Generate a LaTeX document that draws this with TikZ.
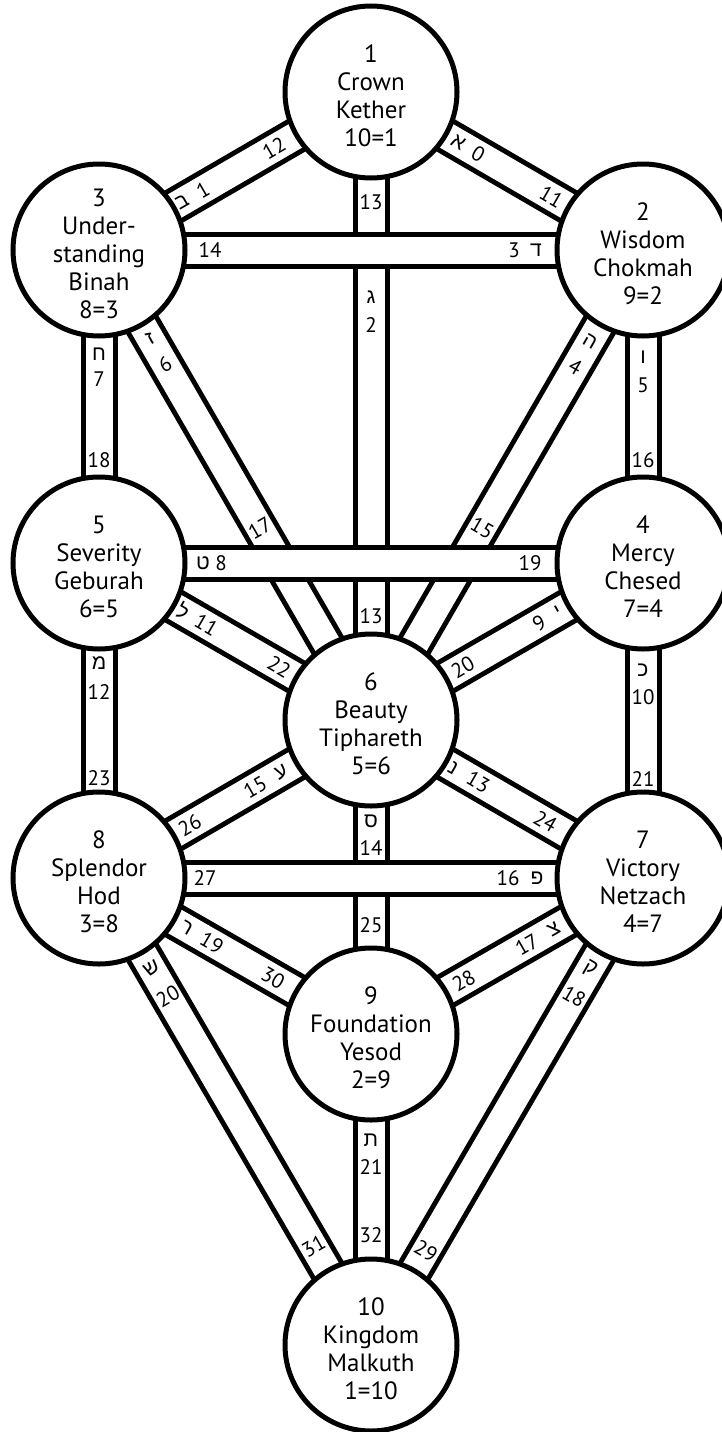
\documentclass[tikz,border=0pt]{standalone}
\usepackage{fontspec}
\setmainfont{PT Sans}
\newfontfamily\hebfont[Script=Hebrew]{Liberation Sans}
\usetikzlibrary{calc,backgrounds}

\newcommand{\heb}[1]{{\hebfont #1}}

\tikzset{
  sephira/.style={circle,draw,fill=white,line width=5pt,minimum size=172pt,
    inner sep=0pt},
  sephiratext/.style={align=center,inner sep=0pt,
    font=\fontsize{25}{28}\selectfont},
  pathrim/.style={line width=37pt},
  pathfill/.style={white,line width=27pt},
  pathtag/.style={inner sep=0pt,font=\fontsize{21}{21}\selectfont}
}

\begin{document}
\begin{tikzpicture}[x=1pt,y=-1pt]
  \useasboundingbox (0,0) rectangle (722,1432);

  \foreach \n/\x/\y/\txt in {
      kether/371/92/{1\\Crown\\Kether\\10=1},
      chokmah/643/250/{2\\Wisdom\\Chokmah\\9=2},
      binah/99/250/{3\\Under-\\standing\\Binah\\8=3},
      chesed/643/563/{4\\Mercy\\Chesed\\7=4},
      geburah/99/563/{5\\Severity\\Geburah\\6=5},
      tiphareth/371/720/{6\\Beauty\\Tiphareth\\5=6},
      netzach/643/878/{7\\Victory\\Netzach\\4=7},
      hod/99/878/{8\\Splendor\\Hod\\3=8},
      yesod/371/1034/{9\\Foundation\\Yesod\\2=9},
      malkuth/371/1345/{10\\Kingdom\\Malkuth\\1=10}}{
    \node[sephira] (\n) at (\x,\y) {};
    \node[sephiratext] (\n-txt) at ([yshift=-4pt]\n.center) {\txt};
  }

  \begin{pgfonlayer}{background}
    \foreach \a/\b in {kether/chokmah,kether/binah,kether/tiphareth,
        chokmah/tiphareth,chokmah/chesed,binah/tiphareth,binah/geburah,
        chesed/tiphareth,chesed/netzach,geburah/tiphareth,geburah/hod,
        tiphareth/netzach,tiphareth/yesod,tiphareth/hod,netzach/yesod,
        netzach/malkuth,hod/yesod,hod/malkuth,yesod/malkuth,
        binah/chokmah,geburah/chesed,hod/netzach}{
      \draw[pathrim] (\a.center) -- (\b.center);
      \draw[pathfill] (\a.center) -- (\b.center);
    }
  \end{pgfonlayer}

  \foreach \a/\b/\dist/\lab/\rot in {
      kether/chokmah/101/\heb{א}/-30, kether/chokmah/124/0/-30,
      chokmah/kether/106/11/-30,
      kether/binah/112/12/30, binah/kether/96/\heb{ב}/30, binah/kether/120/1/30,
      kether/tiphareth/110/13/0, kether/tiphareth/205/\heb{ג}/0,
      kether/tiphareth/233/2/0, tiphareth/kether/104/13/0,
      binah/chokmah/111/14/0, chokmah/binah/107/\heb{ד}/0,
      chokmah/binah/129/3/0,
      chokmah/tiphareth/106/\heb{ה}/-30, chokmah/tiphareth/135/4/-30,
      tiphareth/chokmah/222/15/-30,
      chokmah/chesed/107/\heb{ו}/0, chokmah/chesed/135/5/0,
      chesed/chokmah/103/16/0,
      binah/tiphareth/102/\heb{ז}/30, binah/tiphareth/132/6/30,
      tiphareth/binah/222/17/30,
      binah/geburah/104/\heb{ח}/0, binah/geburah/129/7/0,
      geburah/binah/103/18/0,
      geburah/chesed/104/\heb{ט}/0, geburah/chesed/122/8/0,
      chesed/geburah/113/19/0,
      chesed/tiphareth/98/\heb{י}/30, chesed/tiphareth/120/9/30,
      tiphareth/chesed/106/20/30,
      chesed/netzach/107/\heb{כ}/0, chesed/netzach/134/10/0,
      netzach/chesed/99/21/0,
      geburah/tiphareth/97/\heb{ל}/-30, geburah/tiphareth/124/11/-30,
      tiphareth/geburah/106/22/-30,
      geburah/hod/100/\heb{מ}/0, geburah/hod/129/12/0,
      hod/geburah/100/23/0,
      tiphareth/netzach/95/\heb{נ}/-30, tiphareth/netzach/124/13/-30,
      netzach/tiphareth/113/24/-30,
      tiphareth/yesod/101/\heb{ס}/0, tiphareth/yesod/128/14/0,
      yesod/tiphareth/109/25/0,
      tiphareth/hod/104/\heb{ע}/30, tiphareth/hod/134/15/30,
      hod/tiphareth/105/26/30,
      hod/netzach/106/27/0, netzach/hod/106/\heb{פ}/0,
      netzach/hod/135/16/0,
      netzach/yesod/103/\heb{צ}/30, netzach/yesod/134/17/30,
      yesod/netzach/107/28/30,
      netzach/malkuth/105/\heb{ק}/-30, netzach/malkuth/137/18/-30,
      malkuth/netzach/109/29/-30,
      hod/yesod/101/\heb{ר}/-30, hod/yesod/130/19/-30,
      yesod/hod/113/30/-30,
      hod/malkuth/104/\heb{ש}/30, hod/malkuth/137/20/30,
      malkuth/hod/114/31/30,
      yesod/malkuth/106/\heb{ת}/0, yesod/malkuth/133/21/0,
      malkuth/yesod/110/32/0}
    \node[pathtag,rotate=\rot] (tag-\a-\b-\dist)
      at ($(\a.center)!\dist pt!(\b.center)$) {\lab};
\end{tikzpicture}
\end{document}
